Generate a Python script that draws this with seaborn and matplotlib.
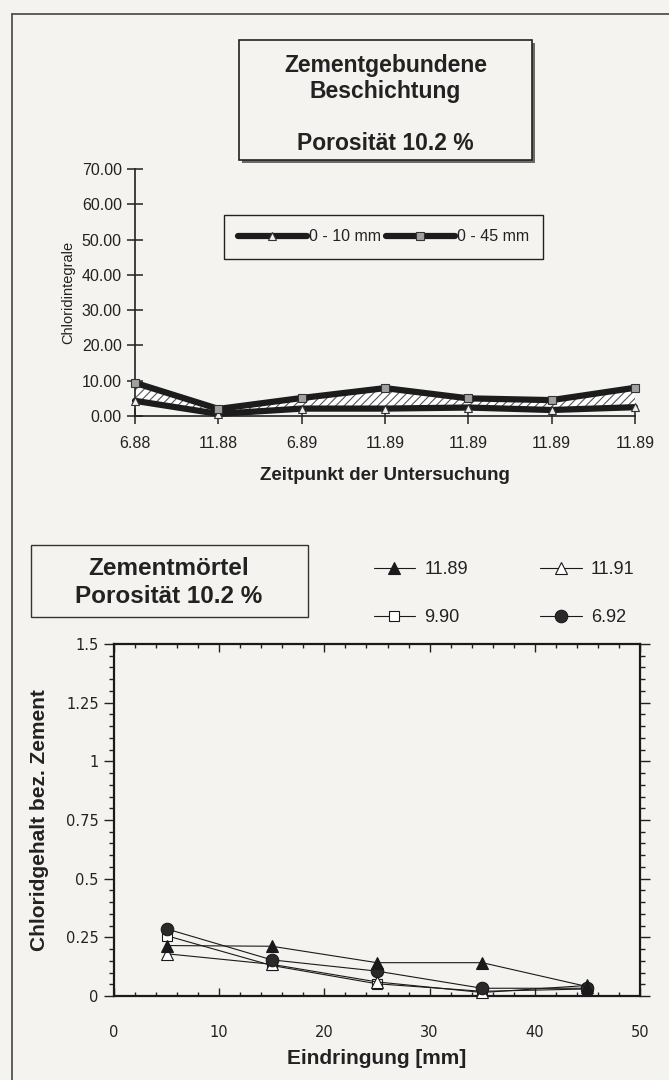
import numpy as np
import pandas as pd
import matplotlib
matplotlib.use("Agg")
import matplotlib.pyplot as plt
import seaborn as sns
from matplotlib.lines import Line2D
from matplotlib.patches import Rectangle
from matplotlib.ticker import FixedLocator, MultipleLocator

# ---------------- data: upper chart ----------------
zeitpunkt = ["6.88", "11.88", "6.89", "11.89", "11.89", "11.89", "11.89"]
chlorid_0_10 = [4.3, 0.6, 2.1, 2.1, 2.4, 1.7, 2.5]
chlorid_0_45 = [9.4, 2.0, 5.1, 7.9, 5.0, 4.5, 8.0]
top_yticks = [0, 10, 20, 30, 40, 50, 60, 70]
top_yticklabels = ["0.00", "10.00", "20.00", "30.00", "40.00", "50.00", "60.00", "70.00"]

# ---------------- data: lower chart ----------------
eindringung = [5, 15, 25, 35, 45]
serie_11_89 = [0.215, 0.212, 0.142, 0.142, 0.040]
serie_11_91 = [0.180, 0.135, 0.060, 0.015, 0.045]
serie_9_90 = [0.257, 0.130, 0.052, 0.020, 0.030]
serie_6_92 = [0.286, 0.154, 0.106, 0.033, 0.033]
bottom_yticks = [0, 0.25, 0.5, 0.75, 1, 1.25, 1.5]
bottom_yticklabels = ["0", "0.25", "0.5", "0.75", "1", "1.25", "1.5"]
bottom_xticks = [0, 10, 20, 30, 40, 50]
bottom_xticklabels = ["0", "10", "20", "30", "40", "50"]

sns.set_style("ticks")
plt.rcParams["font.family"] = ["Liberation Sans", "DejaVu Sans"]
plt.rcParams["hatch.linewidth"] = 0.8
plt.rcParams["text.color"] = "#222222"

BG = "#f4f3f0"
INK = "#222222"
W, H = 669, 1080

fig = plt.figure(figsize=(W / 100, H / 100), dpi=100, facecolor=BG)


def px_rect(l, t, r, b):
    return [l / W, 1 - b / H, (r - l) / W, (b - t) / H]


def fx(x):
    return x / W


def fy(y):
    return 1 - y / H


# page frame
fig.add_artist(Line2D([fx(12), fx(12)], [0, fy(14)], transform=fig.transFigure, color="#444444", lw=1.2))
fig.add_artist(Line2D([fx(12), 1], [fy(14), fy(14)], transform=fig.transFigure, color="#444444", lw=1.2))

# ---------------- upper chart ----------------
ax1 = fig.add_axes(px_rect(135, 169, 635, 416))
ax1.set_facecolor("none")
df_top = pd.DataFrame({
    "pos": np.arange(len(zeitpunkt)),
    "0 - 10 mm": chlorid_0_10,
    "0 - 45 mm": chlorid_0_45,
})
ax1.fill_between(df_top["pos"], df_top["0 - 10 mm"], df_top["0 - 45 mm"],
                 facecolor="white", edgecolor="#555555", hatch="////", linewidth=0, zorder=1)
sns.lineplot(data=df_top, x="pos", y="0 - 10 mm", ax=ax1, color="#1c1c1c", lw=4.5,
             marker="^", markersize=6, markerfacecolor="#f0f0f0", markeredgecolor="#333333",
             markeredgewidth=0.8, label="0 - 10 mm", clip_on=False, zorder=3)
sns.lineplot(data=df_top, x="pos", y="0 - 45 mm", ax=ax1, color="#1c1c1c", lw=4.5,
             marker="s", markersize=6, markerfacecolor="#a0a0a0", markeredgecolor="#333333",
             markeredgewidth=0.8, label="0 - 45 mm", clip_on=False, zorder=3)

ax1.set_xlim(0, len(zeitpunkt) - 1)
ax1.set_ylim(0, 70)
ax1.set_xticks(df_top["pos"])
ax1.set_xticklabels(zeitpunkt)
ax1.set_yticks(top_yticks)
ax1.set_yticklabels(top_yticklabels)
ax1.tick_params(axis="both", direction="inout", length=11, width=1.1, color=INK,
                labelsize=11.5, labelcolor=INK)
ax1.tick_params(axis="x", pad=9)
ax1.tick_params(axis="y", pad=4)
for s in ["top", "right"]:
    ax1.spines[s].set_visible(False)
for s in ["left", "bottom"]:
    ax1.spines[s].set_color(INK)
    ax1.spines[s].set_linewidth(1.2)

ax1.set_ylabel("Chloridintegrale", fontsize=10.5, color=INK)
ax1.yaxis.set_label_coords((68 - 135) / 500, 0.5)
ax1.yaxis.label.set_va("center")
ax1.set_xlabel("Zeitpunkt der Untersuchung", fontsize=13.5, fontweight="bold", color=INK)
ax1.xaxis.set_label_coords(0.5, (416 - 475) / 247)
ax1.xaxis.label.set_va("center")

h1, l1 = ax1.get_legend_handles_labels()
leg1 = ax1.legend(h1, l1, ncol=2, loc="center", bbox_to_anchor=(0.497, 0.725),
                  fontsize=11.5, frameon=True, fancybox=False, edgecolor=INK,
                  facecolor=BG, framealpha=1, handlelength=4.3, handletextpad=0.15,
                  columnspacing=0.3, borderpad=0.9, borderaxespad=0)
leg1.get_frame().set_linewidth(1.0)

# upper title box with shadow
fig.add_artist(Rectangle((fx(242), fy(163)), (532 - 239) / W, (160 - 40) / H,
                         transform=fig.transFigure, facecolor="#6a6a6a", edgecolor="none", zorder=1))
fig.add_artist(Rectangle((fx(239), fy(160)), (532 - 239) / W, (160 - 40) / H,
                         transform=fig.transFigure, facecolor=BG, edgecolor=INK, lw=1.2, zorder=2))
for txt, yb in [("Zementgebundene", 72), ("Beschichtung", 98), ("Porosität 10.2 %", 150)]:
    fig.text(fx(385.5), fy(yb), txt, ha="center", va="baseline", fontsize=16.5,
             fontweight="bold", color=INK, zorder=3)

# ---------------- lower chart ----------------
ax2 = fig.add_axes(px_rect(114, 644, 640, 996))
ax2.set_facecolor("none")
df_bot = pd.DataFrame({
    "x": eindringung,
    "11.89": serie_11_89,
    "11.91": serie_11_91,
    "9.90": serie_9_90,
    "6.92": serie_6_92,
})
styles = {
    "11.89": dict(marker="^", markersize=8, markerfacecolor="#1a1a1a", markeredgecolor="#1a1a1a"),
    "11.91": dict(marker="^", markersize=8, markerfacecolor="white", markeredgecolor="#1a1a1a"),
    "9.90": dict(marker="s", markersize=7, markerfacecolor="white", markeredgecolor="#1a1a1a"),
    "6.92": dict(marker="o", markersize=9, markerfacecolor="#2a2a2a", markeredgecolor="#1a1a1a"),
}
for name in ["9.90", "11.91", "6.92", "11.89"]:
    sns.lineplot(data=df_bot, x="x", y=name, ax=ax2, color="#1a1a1a", lw=0.8,
                 markeredgewidth=0.8, label=name, clip_on=False, zorder=3, **styles[name])
if ax2.get_legend() is not None:
    ax2.get_legend().remove()

ax2.set_xlim(0, 50)
ax2.set_ylim(0, 1.5)
ax2.xaxis.set_major_locator(FixedLocator(bottom_xticks))
ax2.set_xticklabels(bottom_xticklabels)
ax2.xaxis.set_minor_locator(MultipleLocator(2))
ax2.yaxis.set_major_locator(FixedLocator(bottom_yticks))
ax2.set_yticklabels(bottom_yticklabels)
ax2.yaxis.set_minor_locator(MultipleLocator(0.05))
ax2.tick_params(axis="x", which="both", direction="in", top=True, bottom=True, color=INK, width=1.0)
ax2.tick_params(axis="x", which="major", length=6, pad=21)
ax2.tick_params(axis="x", which="minor", length=3)
ax2.tick_params(axis="y", which="both", direction="out", left=True, right=True, color=INK, width=1.0)
ax2.tick_params(axis="y", which="major", length=7, pad=4)
ax2.tick_params(axis="y", which="minor", length=3.5)
for lab in ax2.get_xticklabels() + ax2.get_yticklabels():
    lab.set_family("DejaVu Sans")
    lab.set_fontsize(10.5)
    lab.set_color(INK)
for s in ["top", "right", "left", "bottom"]:
    ax2.spines[s].set_color("#1a1a1a")
    ax2.spines[s].set_linewidth(1.6)

ax2.set_ylabel("Chloridgehalt bez. Zement", fontsize=15, fontweight="bold", color=INK)
ax2.yaxis.set_label_coords((40 - 114) / 526, 0.5)
ax2.yaxis.label.set_va("center")
ax2.set_xlabel("Eindringung [mm]", fontsize=15, fontweight="bold", color=INK)
ax2.xaxis.set_label_coords(0.5, (996 - 1058) / 352)
ax2.xaxis.label.set_va("center")

h2, l2 = ax2.get_legend_handles_labels()
hd = dict(zip(l2, h2))
order = ["11.89", "9.90", "11.91", "6.92"]
leg2 = fig.legend([hd[k] for k in order], order, ncol=2, loc="center",
                  bbox_to_anchor=(fx(504), fy(593.5)), frameon=False, fontsize=13,
                  handlelength=2.3, handletextpad=0.5, columnspacing=4.0, labelspacing=1.7)

# lower title box
fig.add_artist(Rectangle((fx(31), fy(617)), (308 - 31) / W, (617 - 545) / H,
                         transform=fig.transFigure, facecolor=BG, edgecolor="#333333", lw=1.0, zorder=2))
fig.text(fx(169), fy(575), "Zementmörtel", ha="center", va="baseline", fontsize=17.5,
         fontweight="bold", color=INK, zorder=3)
fig.text(fx(169), fy(603), "Porosität 10.2 %", ha="center", va="baseline", fontsize=17.5,
         fontweight="bold", color=INK, zorder=3)

fig.savefig("out.png", dpi=100, facecolor=BG)
